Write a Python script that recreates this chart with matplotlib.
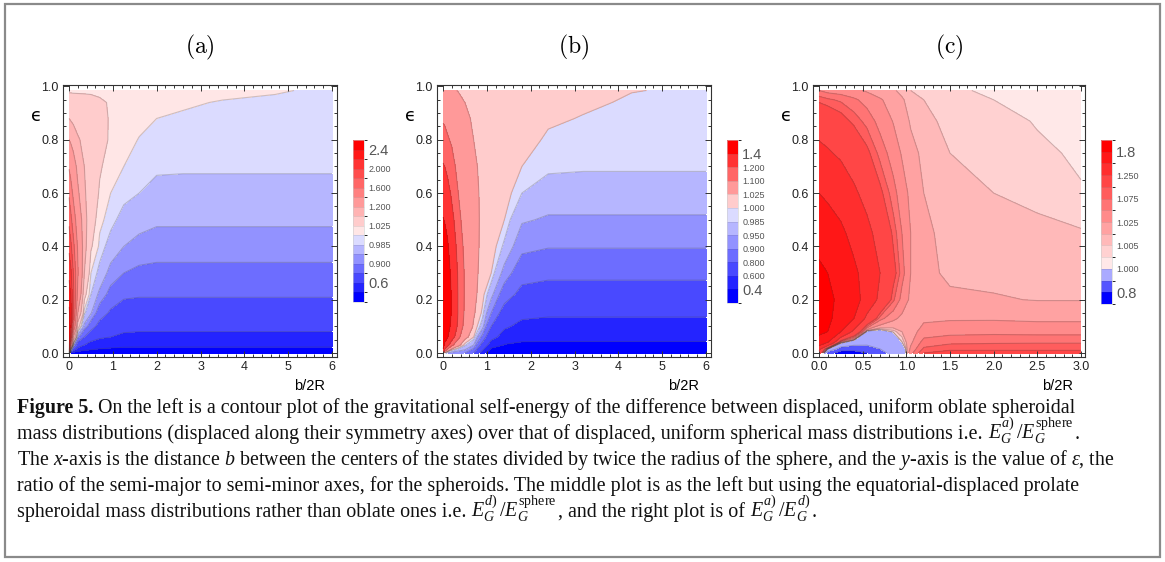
import numpy as np
import matplotlib
matplotlib.use("Agg")
import matplotlib.pyplot as plt
from matplotlib.colors import ListedColormap, BoundaryNorm
from matplotlib.patches import Rectangle
from matplotlib.ticker import MultipleLocator

W, H = 1165, 562

# ---------------- data ----------------
# panel (a): E_G^a) / E_G^sphere ; each inner list is one x column, values along eps
xa = [0, 0.04, 0.1, 0.2, 0.35, 0.5, 0.7, 0.95, 1.25, 1.6, 2.0, 2.6, 3.5, 4.7, 6]
ea = [0, 0.012, 0.03, 0.06, 0.1, 0.15, 0.22, 0.3, 0.4, 0.5, 0.6, 0.7, 0.8, 0.88, 0.94, 0.985]
za_cols = [
    [2.6, 2.6, 2.6, 2.6, 2.55, 2.45, 2.3, 2.15, 1.95, 1.75, 1.57, 1.38, 1.2, 1.1, 1.045, 1.02],
    [0.3, 1.0, 1.6, 2.1, 2.3, 2.3, 2.2, 2.05, 1.85, 1.65, 1.48, 1.33, 1.18, 1.09, 1.045, 1.02],
    [0.3, 0.7, 0.95, 1.2, 1.6, 1.8, 1.85, 1.8, 1.65, 1.5, 1.36, 1.26, 1.15, 1.08, 1.042, 1.02],
    [0.3, 0.5, 0.72, 0.93, 1.05, 1.2, 1.35, 1.42, 1.38, 1.3, 1.22, 1.17, 1.11, 1.065, 1.04, 1.02],
    [0.3, 0.42, 0.6, 0.8, 0.94, 0.99, 1.04, 1.1, 1.13, 1.13, 1.11, 1.1, 1.08, 1.055, 1.038, 1.02],
    [0.3, 0.4, 0.52, 0.7, 0.86, 0.955, 0.985, 1.0, 1.03, 1.05, 1.06, 1.065, 1.06, 1.045, 1.035, 1.02],
    [0.3, 0.38, 0.48, 0.63, 0.75, 0.86, 0.94, 0.978, 0.995, 1.005, 1.02, 1.03, 1.04, 1.035, 1.03, 1.018],
    [0.3, 0.37, 0.45, 0.6, 0.71, 0.78, 0.875, 0.935, 0.975, 0.992, 1.0, 1.008, 1.02, 1.022, 1.022, 1.015],
    [0.3, 0.36, 0.435, 0.56, 0.66, 0.73, 0.825, 0.9, 0.95, 0.976, 0.992, 1.0, 1.008, 1.014, 1.018, 1.014],
    [0.3, 0.36, 0.43, 0.55, 0.65, 0.72, 0.815, 0.885, 0.937, 0.965, 0.985, 0.993, 0.999, 1.006, 1.012, 1.012],
    [0.3, 0.36, 0.43, 0.55, 0.65, 0.72, 0.815, 0.88, 0.93, 0.957, 0.977, 0.989, 0.995, 1.0, 1.006, 1.01],
    [0.3, 0.36, 0.43, 0.55, 0.65, 0.72, 0.815, 0.88, 0.93, 0.957, 0.977, 0.988, 0.993, 0.998, 1.002, 1.007],
    [0.3, 0.36, 0.43, 0.55, 0.65, 0.72, 0.815, 0.88, 0.93, 0.957, 0.977, 0.988, 0.993, 0.997, 0.999, 1.004],
    [0.3, 0.36, 0.43, 0.55, 0.65, 0.72, 0.815, 0.88, 0.93, 0.957, 0.977, 0.988, 0.992, 0.995, 0.998, 1.001],
    [0.3, 0.36, 0.43, 0.55, 0.65, 0.72, 0.815, 0.88, 0.93, 0.957, 0.977, 0.988, 0.991, 0.994, 0.996, 0.998],
]
levels_a = [0.4, 0.6, 0.8, 0.9, 0.95, 0.985, 1.0, 1.025, 1.1, 1.2, 1.4, 1.6, 1.8, 2.0, 2.2, 2.4]
labels_a = {2.4: "2.4", 2.0: "2.000", 1.6: "1.600", 1.2: "1.200",
            1.025: "1.025", 0.985: "0.985", 0.9: "0.900", 0.6: "0.6"}

# panel (b): E_G^d) / E_G^sphere
xb = [0, 0.04, 0.1, 0.2, 0.35, 0.5, 0.7, 0.9, 1.1, 1.4, 1.8, 2.4, 3.2, 4.3, 6]
eb = [0, 0.012, 0.03, 0.06, 0.1, 0.15, 0.22, 0.3, 0.4, 0.5, 0.6, 0.7, 0.8, 0.88, 0.94, 0.985]
zb_cols = [
    [1.3, 1.38, 1.48, 1.55, 1.6, 1.62, 1.62, 1.58, 1.5, 1.41, 1.31, 1.21, 1.135, 1.09, 1.058, 1.035],
    [1.0, 1.18, 1.35, 1.5, 1.56, 1.58, 1.58, 1.55, 1.48, 1.39, 1.29, 1.2, 1.13, 1.085, 1.055, 1.033],
    [0.95, 1.08, 1.25, 1.42, 1.5, 1.53, 1.53, 1.5, 1.43, 1.34, 1.25, 1.17, 1.11, 1.075, 1.05, 1.03],
    [0.93, 1.0, 1.12, 1.26, 1.34, 1.38, 1.38, 1.35, 1.3, 1.24, 1.18, 1.13, 1.09, 1.062, 1.042, 1.028],
    [0.92, 0.97, 1.04, 1.12, 1.17, 1.19, 1.19, 1.18, 1.15, 1.12, 1.1, 1.075, 1.055, 1.042, 1.032, 1.024],
    [0.9, 0.95, 0.99, 1.04, 1.07, 1.085, 1.09, 1.09, 1.08, 1.07, 1.058, 1.047, 1.037, 1.03, 1.025, 1.02],
    [0.8, 0.88, 0.95, 1.0, 1.02, 1.03, 1.035, 1.036, 1.036, 1.034, 1.031, 1.028, 1.025, 1.022, 1.02, 1.017],
    [0.5, 0.62, 0.75, 0.88, 0.97, 0.995, 1.008, 1.014, 1.018, 1.02, 1.021, 1.021, 1.02, 1.019, 1.018, 1.016],
    [0.25, 0.35, 0.5, 0.67, 0.8, 0.9, 0.965, 1.0, 1.012, 1.018, 1.021, 1.023, 1.024, 1.024, 1.023, 1.021],
    [0.22, 0.3, 0.39, 0.52, 0.63, 0.74, 0.86, 0.935, 0.98, 1.0, 1.01, 1.017, 1.02, 1.022, 1.022, 1.022],
    [0.2, 0.28, 0.36, 0.46, 0.55, 0.65, 0.76, 0.85, 0.92, 0.955, 0.985, 1.0, 1.008, 1.013, 1.017, 1.02],
    [0.2, 0.28, 0.36, 0.45, 0.53, 0.63, 0.74, 0.83, 0.905, 0.945, 0.972, 0.99, 0.997, 1.003, 1.008, 1.012],
    [0.2, 0.28, 0.36, 0.45, 0.53, 0.63, 0.74, 0.83, 0.905, 0.945, 0.972, 0.988, 0.995, 0.999, 1.003, 1.006],
    [0.2, 0.28, 0.36, 0.45, 0.53, 0.63, 0.74, 0.83, 0.905, 0.945, 0.972, 0.988, 0.993, 0.996, 0.998, 1.0005],
    [0.2, 0.28, 0.36, 0.45, 0.53, 0.63, 0.74, 0.83, 0.905, 0.945, 0.972, 0.988, 0.992, 0.995, 0.997, 0.998],
]
levels_b = [0.4, 0.6, 0.8, 0.9, 0.95, 0.985, 1.0, 1.025, 1.1, 1.2, 1.4]
labels_b = {1.4: "1.4", 1.2: "1.200", 1.1: "1.100", 1.025: "1.025", 1.0: "1.000",
            0.985: "0.985", 0.95: "0.950", 0.9: "0.900", 0.8: "0.800", 0.6: "0.600", 0.4: "0.4"}

# panel (c): E_G^a) / E_G^d)
xc = [0, 0.1, 0.25, 0.4, 0.55, 0.7, 0.85, 0.95, 1.05, 1.2, 1.5, 2.0, 2.5, 3.0]
ec = [0, 0.015, 0.04, 0.08, 0.13, 0.2, 0.3, 0.45, 0.6, 0.75, 0.87, 0.95, 0.985]
zc_cols = [
    [1.2, 1.3, 1.7, 1.85, 1.9, 1.9, 1.85, 1.7, 1.5, 1.3, 1.17, 1.09, 1.05],
    [0.85, 1.0, 1.5, 1.8, 1.85, 1.85, 1.8, 1.65, 1.45, 1.27, 1.15, 1.08, 1.04],
    [0.75, 0.85, 1.02, 1.5, 1.7, 1.75, 1.7, 1.55, 1.38, 1.22, 1.12, 1.07, 1.035],
    [0.75, 0.84, 0.95, 1.2, 1.5, 1.6, 1.55, 1.42, 1.28, 1.16, 1.09, 1.055, 1.03],
    [0.8, 0.86, 0.93, 0.99, 1.2, 1.4, 1.4, 1.3, 1.19, 1.11, 1.065, 1.04, 1.022],
    [0.87, 0.9, 0.95, 0.99, 1.06, 1.2, 1.25, 1.18, 1.11, 1.065, 1.04, 1.027, 1.016],
    [0.93, 0.95, 0.97, 1.002, 1.03, 1.08, 1.12, 1.09, 1.06, 1.037, 1.024, 1.017, 1.011],
    [0.97, 0.98, 1.0, 1.01, 1.02, 1.04, 1.06, 1.05, 1.035, 1.023, 1.015, 1.011, 1.008],
    [1.04, 1.03, 1.02, 1.015, 1.015, 1.02, 1.025, 1.025, 1.02, 1.013, 1.009, 1.007, 1.005],
    [1.1, 1.08, 1.06, 1.035, 1.02, 1.015, 1.013, 1.012, 1.01, 1.008, 1.006, 1.005, 1.004],
    [1.12, 1.09, 1.07, 1.04, 1.022, 1.012, 1.008, 1.007, 1.006, 1.005, 1.004, 1.003, 1.0015],
    [1.12, 1.09, 1.072, 1.042, 1.022, 1.011, 1.007, 1.006, 1.005, 1.003, 1.002, 1.001, 1.0005],
    [1.12, 1.09, 1.073, 1.04, 1.02, 1.0095, 1.007, 1.006, 1.004, 1.0015, 1.0008, 1.0005, 1.0003],
    [1.12, 1.09, 1.073, 1.04, 1.02, 1.0095, 1.007, 1.0055, 1.0012, 1.0006, 1.0004, 1.0003, 1.0002],
]
levels_c = [0.8, 0.9, 1.0, 1.001, 1.005, 1.01, 1.025, 1.05, 1.075, 1.1, 1.25, 1.5, 1.8]
labels_c = {1.8: "1.8", 1.25: "1.250", 1.075: "1.075", 1.025: "1.025",
            1.005: "1.005", 1.0: "1.000", 0.8: "0.8"}

# caption, split in pieces: (text, kind, gap before in px)
caption = [
    [("Figure 5.", "bold", 0),
     ("On the left is a contour plot of the gravitational self-energy of the difference between displaced, uniform oblate spheroidal", "text", 5)],
    [("mass distributions (displaced along their symmetry axes) over that of displaced, uniform spherical mass distributions i.e.", "text", 0),
     (r"$E_G^{a)}\,/E_G^{\mathrm{sphere}}$", "math", 5), (".", "text", 1)],
    [(r"The $x$-axis is the distance $b$ between the centers of the states divided by twice the radius of the sphere, and the $y$-axis is the value of $\epsilon$, the", "text", 0)],
    [("ratio of the semi-major to semi-minor axes, for the spheroids. The middle plot is as the left but using the equatorial-displaced prolate", "text", 0)],
    [("spheroidal mass distributions rather than oblate ones i.e.", "text", 0),
     (r"$E_G^{d)}\,/E_G^{\mathrm{sphere}}$", "math", 5), (", and the right plot is of", "text", 1),
     (r"$E_G^{a)}\,/E_G^{d)}$", "math", 5), (".", "text", 1)],
]

# ---------------- style ----------------
plt.rcParams["font.family"] = ["Liberation Sans", "DejaVu Sans"]
plt.rcParams["mathtext.fontset"] = "custom"
plt.rcParams["mathtext.rm"] = "Liberation Serif"
plt.rcParams["mathtext.it"] = "Liberation Serif:italic"
plt.rcParams["mathtext.bf"] = "Liberation Serif:bold"

fig = plt.figure(figsize=(W / 100, H / 100), dpi=100)


def rect(x0, y0, x1, y1):
    return [x0 / W, 1 - y1 / H, (x1 - x0) / W, (y1 - y0) / H]


def block_colors(n_blue, n_red):
    cols = []
    for k in range(n_blue, 0, -1):
        t = k / n_blue
        cols.append((1 - t, 1 - t, 1.0))
    for k in range(1, n_red + 1):
        t = k / n_red
        cols.append((1.0, 1 - t, 1 - t))
    return cols


def panel(box, cbox, xs, es, cols, levels, labels, xlim, xmaj, xmin, title):
    ax = fig.add_axes(rect(*box))
    Z = np.array(cols).T
    X, Y = np.meshgrid(xs, es)
    bounds = [min(Z.min(), levels[0]) - 0.1] + levels + [max(Z.max(), levels[-1]) + 0.1]
    n_blue = sum(1 for v in levels if v < 1.0) + 1
    n_red = len(bounds) - 1 - n_blue
    cmap = ListedColormap(block_colors(n_blue, n_red))
    norm = BoundaryNorm(bounds, cmap.N)
    cf = ax.contourf(X, Y, Z, levels=bounds, cmap=cmap, norm=norm)
    ax.contour(X, Y, Z, levels=levels, colors="#404040", alpha=0.25, linewidths=0.8)

    ax.set_xlim(*xlim)
    ax.set_ylim(-0.015, 1.0056)
    ax.xaxis.set_major_locator(MultipleLocator(xmaj))
    ax.xaxis.set_minor_locator(MultipleLocator(xmin))
    ax.yaxis.set_major_locator(MultipleLocator(0.2))
    ax.yaxis.set_minor_locator(MultipleLocator(0.05))
    if xmaj < 1:
        ax.set_xticks(np.arange(0, 3.01, 0.5))
        ax.set_xticklabels([f"{v:.1f}" for v in np.arange(0, 3.01, 0.5)])
    ax.set_yticks(np.arange(0, 1.01, 0.2))
    ax.set_yticklabels([f"{v:.1f}" for v in np.arange(0, 1.01, 0.2)])
    ax.tick_params(which="both", direction="in", top=True, right=True,
                   colors="#333333", labelcolor="#222222", labelsize=9, width=0.7)
    ax.tick_params(which="major", length=4, pad=3)
    ax.tick_params(which="minor", length=2)
    for s in ax.spines.values():
        s.set_linewidth(0.8)
        s.set_color("#333333")

    # legend bar
    cax = fig.add_axes(rect(*cbox))
    cb = fig.colorbar(cf, cax=cax, spacing="uniform", ticks=list(labels.keys()),
                      drawedges=True)
    cb.dividers.set_color((0.3, 0.3, 0.3, 0.15))
    cb.dividers.set_linewidth(0.6)
    cb.outline.set_linewidth(0.4)
    cb.outline.set_edgecolor("#cccccc")
    cb.ax.set_yticklabels(list(labels.values()))
    cb.ax.tick_params(length=0, pad=3, labelcolor="#555555", labelsize=6.5)
    tl = cb.ax.get_yticklabels()
    for t in (tl[0], tl[-1]):
        t.set_fontsize(10.5)

    cx = (box[0] + box[2]) / 2
    fig.text(cx / W, 1 - 47 / H, title, ha="center", va="center",
             fontsize=17, math_fontfamily="cm")
    fig.text((box[0] - 27) / W, 1 - 116 / H, "\u03f5", ha="center", va="center",
             fontsize=13, family="DejaVu Sans")
    fig.text((box[2] - 27) / W, 1 - 386 / H, "b/2R", ha="center", va="center",
             fontsize=10.5)
    return ax


panel((63, 85, 337, 357), (353, 140, 364, 302), xa, ea, za_cols, levels_a, labels_a,
      (-0.137, 6.114), 1, 0.2, r"$\mathrm{(a)}$")
panel((437, 85, 711, 357), (727, 140, 738, 303), xb, eb, zb_cols, levels_b, labels_b,
      (-0.137, 6.114), 1, 0.2, r"$\mathrm{(b)}$")
panel((813, 85, 1085, 357), (1101, 140, 1112, 304), xc, ec, zc_cols, levels_c, labels_c,
      (-0.0687, 3.0458), 0.5, 0.1, r"$\mathrm{(c)}$")

# caption, piece by piece
renderer = fig.canvas.get_renderer()
for i, pieces in enumerate(caption):
    x = 17
    y = 1 - (413 + 26 * i) / H
    for txt, kind, gap in pieces:
        t = fig.text((x + gap) / W, y, txt, ha="left", va="baseline",
                     fontsize=14.4, family="Liberation Serif", color="#111111",
                     fontweight="bold" if kind == "bold" else "normal")
        x = t.get_window_extent(renderer=renderer).x1

# outer frame
fig.patches.append(Rectangle((5 / W, 1 - 557 / H), 1155 / W, 553 / H,
                             transform=fig.transFigure, fill=False,
                             edgecolor="#8a8a8a", linewidth=1.6))

fig.savefig("out.png", dpi=100)
